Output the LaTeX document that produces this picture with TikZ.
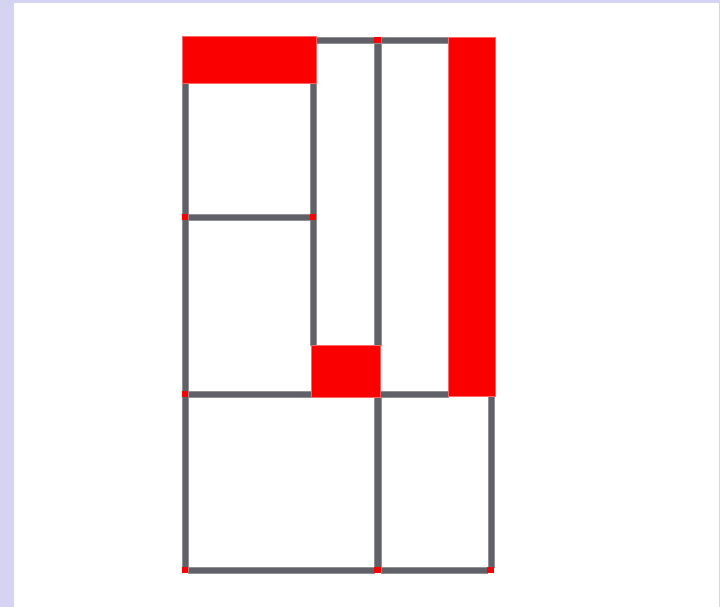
\documentclass[tikz,border=0pt]{standalone}
\definecolor{lav}{RGB}{212,212,242}
\definecolor{bar}{RGB}{96,96,104}
\definecolor{rd}{RGB}{250,0,0}
\tikzset{
  barfill/.style={fill=bar, draw=bar!70!white, line width=0.3pt},
  redfill/.style={fill=rd, draw=rd!60!white, line width=0.3pt},
  joint/.style={fill=rd, draw=none}
}
\begin{document}
\begin{tikzpicture}[x=1pt,y=-1pt]
\useasboundingbox (0,0) rectangle (720,607);
\fill[lav] (0,0) rectangle (720,607);
\fill[white] (14,3) rectangle (719,607);
% gray bars
\path[barfill] (316,37) rectangle (374,43);
\path[barfill] (381,37) rectangle (448,43);
\path[barfill] (182,83) rectangle (188,567);
\path[barfill] (188,214) rectangle (310,220);
\path[barfill] (310,83) rectangle (316,345);
\path[barfill] (374,43) rectangle (381,345);
\path[barfill] (374,397) rectangle (381,567);
\path[barfill] (188,391) rectangle (311,397);
\path[barfill] (380,391) rectangle (448,397);
\path[barfill] (488,396) rectangle (494,567);
\path[barfill] (188,567) rectangle (374,573);
\path[barfill] (381,567) rectangle (487,573);
% joints
\path[joint] (374,37) rectangle (381,43);
\path[joint] (182,214) rectangle (188,220);
\path[joint] (310,214) rectangle (316,220);
\path[joint] (182,391) rectangle (188,397);
\path[joint] (182,567) rectangle (188,573);
\path[joint] (374,567) rectangle (381,573);
\path[joint] (487,567) rectangle (494,573);
% red blocks
\path[redfill] (182,36) rectangle (316,83);
\path[redfill] (448,37) rectangle (495,396);
\path[redfill] (311,345) rectangle (380,397);
\end{tikzpicture}
\end{document}
